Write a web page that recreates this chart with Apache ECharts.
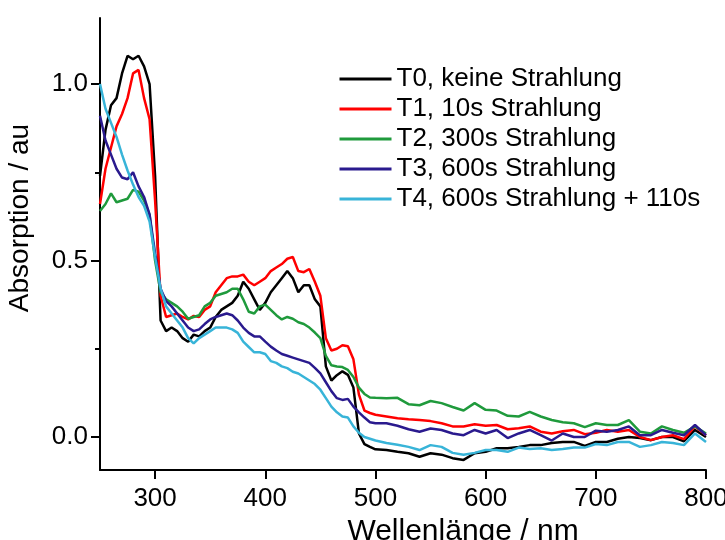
<!DOCTYPE html>
<html>
<head>
<meta charset="utf-8">
<script src="https://cdn.jsdelivr.net/npm/echarts@6/dist/echarts.min.js"></script>
<style>
html, body { margin: 0; padding: 0; background: #fff; }
#main { width: 725px; height: 540px; }
</style>
</head>
<body>
<div id="main"></div>
<script>
// Wellenlaenge (nm)
var wavelength = [250,255,260,265,270,275,280,285,290,295,300,305,310,315,320,325,330,335,340,345,
    350,355,360,365,370,375,380,385,390,395,400,405,410,415,420,425,430,435,440,445,
    450,455,460,465,470,475,480,485,490,495,500,
    510,520,530,540,550,560,570,580,590,600,610,620,630,640,650,660,670,680,690,700,
    710,720,730,740,750,760,770,780,790,800];

// T0, keine Strahlung
var t0 = [0.74,0.87,0.94,0.96,1.03,1.08,1.07,1.08,1.05,1.0,
    0.74,0.33,0.30,0.31,0.30,0.28,0.27,0.29,0.285,0.30,
    0.31,0.34,0.36,0.37,0.38,0.40,0.44,0.42,0.39,0.36,
    0.38,0.41,0.43,0.45,0.47,0.45,0.41,0.43,0.43,0.39,
    0.37,0.20,0.16,0.175,0.186,0.176,0.14,0.01,-0.02,-0.028,-0.035,
    -0.037,-0.042,-0.046,-0.056,-0.046,-0.05,-0.06,-0.065,-0.046,-0.042,
    -0.032,-0.032,-0.028,-0.023,-0.023,-0.017,-0.014,-0.014,-0.025,-0.014,
    -0.014,-0.005,0.0,-0.003,-0.009,0.0,0.0,-0.012,0.02,0.0];
// T1, 10s
var t1 = [0.66,0.76,0.82,0.88,0.915,0.96,1.03,1.04,0.96,0.90,
    0.67,0.40,0.34,0.345,0.35,0.34,0.333,0.343,0.34,0.36,
    0.37,0.41,0.43,0.45,0.455,0.455,0.46,0.44,0.43,0.44,
    0.45,0.47,0.48,0.49,0.505,0.51,0.47,0.467,0.476,0.44,
    0.40,0.28,0.245,0.25,0.26,0.257,0.22,0.12,0.075,0.068,0.063,
    0.058,0.053,0.05,0.048,0.045,0.039,0.03,0.03,0.036,0.032,
    0.034,0.022,0.025,0.03,0.015,0.01,0.016,0.02,0.008,0.012,
    0.02,0.015,0.02,0.0,-0.009,0.0,0.005,-0.006,0.03,0.005];
// T2, 300s
var t2 = [0.64,0.66,0.69,0.665,0.67,0.675,0.70,0.695,0.67,0.63,
    0.50,0.41,0.39,0.38,0.37,0.355,0.335,0.34,0.345,0.37,
    0.38,0.40,0.405,0.41,0.42,0.42,0.39,0.355,0.35,0.37,
    0.375,0.36,0.345,0.333,0.34,0.335,0.325,0.32,0.31,0.296,
    0.28,0.23,0.203,0.20,0.198,0.19,0.17,0.14,0.122,0.112,0.111,
    0.11,0.111,0.093,0.09,0.102,0.096,0.085,0.075,0.096,0.077,
    0.075,0.06,0.058,0.071,0.058,0.048,0.042,0.039,0.028,0.039,
    0.034,0.034,0.048,0.015,0.01,0.03,0.02,0.012,0.03,0.01];
// T3, 600s
var t3 = [0.91,0.84,0.80,0.76,0.735,0.73,0.75,0.71,0.68,0.63,
    0.52,0.42,0.385,0.37,0.35,0.33,0.31,0.30,0.305,0.32,
    0.333,0.34,0.345,0.35,0.345,0.33,0.31,0.295,0.285,0.285,
    0.27,0.256,0.245,0.235,0.23,0.225,0.22,0.215,0.21,0.196,
    0.18,0.155,0.13,0.11,0.105,0.108,0.086,0.07,0.055,0.042,0.039,
    0.039,0.032,0.022,0.015,0.024,0.02,0.01,0.005,0.02,0.01,
    0.02,-0.003,0.01,0.02,0.005,-0.01,0.01,0.0,0.0,0.018,
    0.015,0.02,0.03,0.005,0.005,0.02,0.012,0.005,0.034,0.005];
// T4, 600s + 110s
var t4 = [1.0,0.93,0.89,0.85,0.80,0.755,0.715,0.68,0.655,0.61,
    0.51,0.42,0.37,0.35,0.33,0.31,0.28,0.265,0.28,0.29,
    0.30,0.31,0.31,0.31,0.305,0.295,0.27,0.255,0.24,0.24,
    0.235,0.215,0.21,0.20,0.195,0.185,0.18,0.17,0.16,0.15,
    0.134,0.11,0.086,0.07,0.058,0.055,0.03,0.012,0.0,-0.005,-0.01,
    -0.017,-0.022,-0.028,-0.037,-0.023,-0.028,-0.045,-0.05,-0.045,-0.037,
    -0.037,-0.042,-0.03,-0.034,-0.032,-0.037,-0.034,-0.03,-0.03,-0.02,
    -0.023,-0.014,-0.014,-0.028,-0.023,-0.014,-0.017,-0.023,0.01,-0.014];

var seriesNames = ["T0, keine Strahlung", "T1, 10s Strahlung", "T2, 300s Strahlung",
    "T3, 600s Strahlung", "T4, 600s Strahlung + 110s"];
var seriesColors = ["#000000", "#ff0000", "#1f9a3c", "#2a1a8e", "#38b4d8"];
var xTicks = [300, 400, 500, 600, 700, 800];
var yTicks = [0, 0.5, 1.0];
var yMinorTicks = [0.25, 0.75];

var fontName = "Liberation Sans";

function pairs(ys) {
    return wavelength.map(function (x, i) { return [x, ys[i]]; });
}

var allData = [t0, t1, t2, t3, t4];
var series = [];
for (var i = 0; i < allData.length; i++) {
    series.push({
        name: seriesNames[i],
        type: "line",
        data: pairs(allData[i]),
        showSymbol: false,
        symbol: "none",
        color: seriesColors[i],
        lineStyle: { width: 2.5, color: seriesColors[i] }
    });
}

var myChart = echarts.init(document.getElementById("main"));
myChart.setOption({
    animation: false,
    backgroundColor: "#fff",
    grid: { left: 100, right: 19, top: 18, bottom: 70, outerBoundsMode: "none", containLabel: false },
    legend: {
        orient: "vertical",
        left: 333,
        top: 61,
        itemWidth: 52,
        itemHeight: 14,
        itemGap: 4,
        itemStyle: { opacity: 0 },
        lineStyle: { width: 3 },
        textStyle: { fontFamily: fontName, fontSize: 26, color: "#000", lineHeight: 26 },
        data: seriesNames
    },
    xAxis: {
        type: "value",
        min: 250,
        max: 800,
        name: "Wellenlänge / nm",
        nameLocation: "middle",
        nameGap: 34,
        nameTextStyle: { fontFamily: fontName, fontSize: 30, color: "#000", padding: [0, 0, 0, 120] },
        axisLine: { onZero: false, lineStyle: { color: "#000", width: 2 } },
        axisTick: { customValues: xTicks, length: 9, lineStyle: { color: "#000", width: 2 } },
        axisLabel: { customValues: xTicks, fontFamily: fontName, fontSize: 26, color: "#000", margin: 16 },
        splitLine: { show: false }
    },
    yAxis: [{
        type: "value",
        min: -0.0935,
        max: 1.187,
        name: "Absorption / au",
        nameLocation: "middle",
        nameGap: 66,
        nameTextStyle: { fontFamily: fontName, fontSize: 28, color: "#000", padding: [0, 0, 0, 52] },
        axisLine: { show: true, onZero: false, lineStyle: { color: "#000", width: 2 } },
        axisTick: { show: true, customValues: yTicks, length: 9, lineStyle: { color: "#000", width: 2 } },
        axisLabel: {
            customValues: yTicks, fontFamily: fontName, fontSize: 26, color: "#000", margin: 12,
            formatter: function (v) { return v.toFixed(1); }
        },
        splitLine: { show: false }
    }, {
        type: "value",
        min: -0.0935,
        max: 1.187,
        position: "left",
        axisLine: { show: false, onZero: false },
        axisTick: { show: true, customValues: yMinorTicks, length: 5, lineStyle: { color: "#000", width: 2 } },
        axisLabel: { show: false },
        splitLine: { show: false }
    }],
    series: series
});
</script>
</body>
</html>
